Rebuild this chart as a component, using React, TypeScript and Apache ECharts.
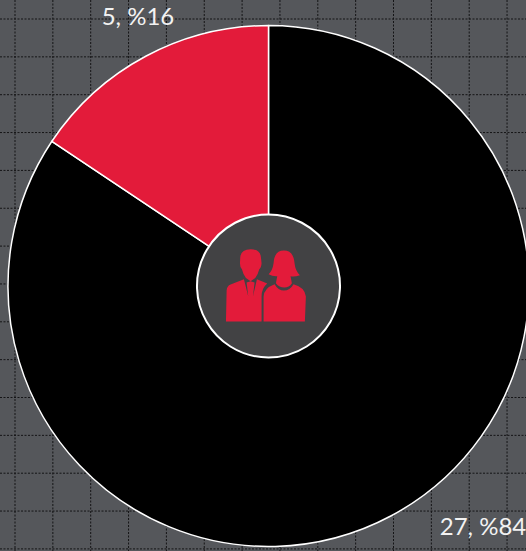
import React, { useEffect, useRef } from "react";
import * as echarts from "echarts";

const categories = ["Group A", "Group B"];
const values = [27, 5];
const colors = ["#000000", "#e31b3a"];
const labelSpots = [
  { x: 483, y: 525 },
  { x: 138, y: 15 },
];
const GRID_STEP = 37.85;
const GRID_X0 = 15;
const GRID_Y0 = 19;

const manPath =
  "M181 172 Q183 148 212 148 Q241 148 243 172 L245 190 Q244 204 238 208 Q234 225 226 234 L212 244 L198 234 Q190 225 186 208 Q180 202 180 190Z " +
  "M138 365 L140 272 Q141 258 152 254 L192 238 L205 290 L200 248 L212 244 L224 248 L219 290 L231 238 L262 251 Q245 265 245 290 L245 365Z";
const womanPath =
  "M266 223 Q278 212 281 190 Q283 152 312 152 Q341 152 344 190 Q346 212 360 226 Q345 231 332 229 L336 250 Q328 263 313 263 Q298 263 288 250 L292 229 Q278 230 266 223Z " +
  "M251 365 L251 290 Q252 265 284 253 Q295 272 312 272 Q330 272 341 253 Q375 262 378 290 L375 365Z";

echarts.graphic.registerShape("peopleIcon", echarts.graphic.extendPath(manPath + " " + womanPath, {}) as any);

export default function App() {
  const ref = useRef<HTMLDivElement>(null);
  useEffect(() => {
    document.body.style.margin = "0";
    const chart = echarts.init(ref.current!, null, { renderer: "svg" });

    const gridLines: any[] = [];
    for (let i = 0; i < 14; i++) {
      const x = GRID_X0 + i * GRID_STEP;
      gridLines.push({
        type: "line",
        shape: { x1: x, y1: 0, x2: x, y2: 551 },
        style: { stroke: "#141416", lineWidth: 1, lineDash: [2, 1.5] },
        z: -1,
        silent: true,
      });
    }
    for (let i = 0; i < 15; i++) {
      const y = GRID_Y0 + i * GRID_STEP;
      gridLines.push({
        type: "line",
        shape: { x1: 0, y1: y, x2: 526, y2: y },
        style: { stroke: "#141416", lineWidth: 1, lineDash: [2, 1.5] },
        z: -1,
        silent: true,
      });
    }

    chart.setOption({
      animation: false,
      backgroundColor: "#55575b",
      graphic: [
        ...gridLines,
        {
          type: "peopleIcon",
          x: 180,
          y: 200,
          scaleX: 1 / 3,
          scaleY: 1 / 3,
          style: { fill: "#e31b3a" },
          z: 100,
          silent: true,
        },
      ],
      series: [
        {
          type: "pie",
          center: [268.5, 286],
          radius: [0, 260.5],
          startAngle: 90,
          clockwise: true,
          percentPrecision: 0,
          silent: true,
          z: 2,
          itemStyle: { borderColor: "#ffffff", borderWidth: 1.5 },
          label: {
            show: true,
            position: "outside",
            overflow: "none",
            formatter: (p: any) => `${p.value}, %${p.percent}`,
            color: "#f2f2f2",
            fontFamily: "Lato",
            fontSize: 24,
          },
          labelLine: { show: false },
          labelLayout: (p: any) => ({
            x: labelSpots[p.dataIndex].x,
            y: labelSpots[p.dataIndex].y,
            align: "center",
            verticalAlign: "middle",
            hideOverlap: false,
          }),
          data: categories.map((name, i) => ({
            name,
            value: values[i],
            itemStyle: { color: colors[i] },
          })),
        },
        {
          type: "pie",
          center: [268.5, 286],
          radius: [0, 71.5],
          silent: true,
          z: 3,
          label: { show: false },
          labelLine: { show: false },
          itemStyle: { color: "#424244", borderColor: "#ffffff", borderWidth: 2 },
          data: [{ name: "centre", value: 1 }],
        },
      ],
    });
    return () => chart.dispose();
  }, []);
  return <div ref={ref} style={{ width: 526, height: 551 }} />;
}
